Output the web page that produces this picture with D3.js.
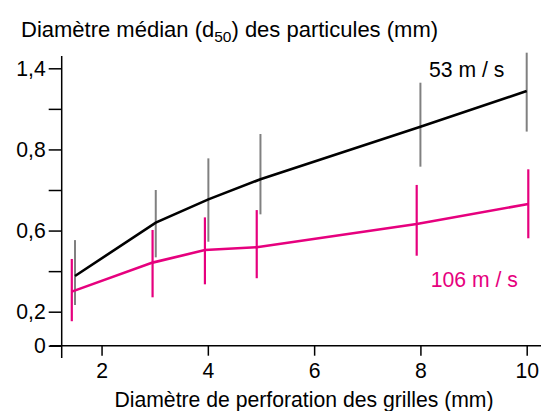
<!DOCTYPE html>
<html><head><meta charset="utf-8">
<script src="https://cdn.jsdelivr.net/npm/d3@7"></script>
<style>
html,body{margin:0;padding:0;background:#fff;}
svg{display:block;font-family:"Liberation Sans",Arial,sans-serif;}
</style></head>
<body><svg id="c" width="541" height="411"></svg>
<script>
// Data (y in the chart's internal linear scale)
const xTicks = [2, 4, 6, 8, 10];
const yTicks = [0, 0.2, 0.4, 0.6, 0.8, 1.0, 1.2, 1.4];
const yTickLabels = ["0", "0,2", "", "0,6", "", "0,8", "", "1,4"];

const x53 = [1.5, 3.02, 4.01, 4.99, 8.0, 10.0];
const y53 = [0.376, 0.639, 0.754, 0.853, 1.112, 1.288];
const lo53 = [0.233, 0.468, 0.545, 0.680, 0.915, 1.088];
const hi53 = [0.553, 0.800, 0.956, 1.076, 1.329, 1.477];

const x106 = [1.44, 2.96, 3.945, 4.92, 7.93, 10.03];
const y106 = [0.299, 0.442, 0.504, 0.518, 0.632, 0.731];
const lo106 = [0.144, 0.271, 0.335, 0.365, 0.476, 0.562];
const hi106 = [0.460, 0.603, 0.665, 0.701, 0.825, 0.902];

const seriesNames = ["53 m / s", "106 m / s"];
const titleParts = ["Diamètre médian (d", "50", ") des particules (mm)"];
const xLabel = "Diamètre de perforation des grilles (mm)";

const svg = d3.select("#c");
const FS = 21.2;
const FF = "Liberation Sans, Arial, sans-serif";
const x = d3.scaleLinear().domain([1.25, 10]).range([61.7, 526.7]);
const y = d3.scaleLinear().domain([0, 0.2, 1.4]).range([345.7, 311.7, 68.3]);

// Axes
const gx = svg.append("g").attr("transform", `translate(0,${y(0)})`)
  .call(d3.axisBottom(x).tickValues(xTicks).tickSize(10).tickSizeOuter(0).tickPadding(7).tickFormat(d3.format("d")));
gx.select(".domain").remove();
gx.selectAll("line").attr("stroke", "#000").attr("stroke-width", 1.5);
gx.selectAll("text").attr("font-size", FS).attr("fill", "#000").attr("font-family", FF);
svg.append("line").attr("x1", 50).attr("x2", 541).attr("y1", y(0)).attr("y2", y(0))
  .attr("stroke", "#000").attr("stroke-width", 1.5);

const gy = svg.append("g").attr("transform", `translate(${x(1.25)},0)`)
  .call(d3.axisLeft(y).tickValues(yTicks).tickSize(13).tickSizeOuter(0).tickPadding(3)
    .tickFormat((d, i) => yTickLabels[i]));
gy.select(".domain").remove();
gy.selectAll("line").attr("stroke", "#000").attr("stroke-width", 1.5);
gy.selectAll("text").attr("font-size", FS).attr("fill", "#000").attr("font-family", FF);
svg.append("line").attr("x1", x(1.25)).attr("x2", x(1.25)).attr("y1", 56).attr("y2", 358)
  .attr("stroke", "#000").attr("stroke-width", 1.5);

// Series
const s53 = x53.map((v, i) => ({x: v, y: y53[i], lo: lo53[i], hi: hi53[i]}));
const s106 = x106.map((v, i) => ({x: v, y: y106[i], lo: lo106[i], hi: hi106[i]}));
const line = d3.line().x(d => x(d.x)).y(d => y(d.y));

svg.append("g").selectAll("line").data(s53).join("line")
  .attr("x1", d => x(d.x)).attr("x2", d => x(d.x))
  .attr("y1", d => y(d.lo)).attr("y2", d => y(d.hi))
  .attr("stroke", "#808080").attr("stroke-width", 2);
svg.append("path").datum(s53).attr("d", line).attr("fill", "none")
  .attr("stroke", "#000").attr("stroke-width", 2.6);

svg.append("g").selectAll("line").data(s106).join("line")
  .attr("x1", d => x(d.x)).attr("x2", d => x(d.x))
  .attr("y1", d => y(d.lo)).attr("y2", d => y(d.hi))
  .attr("stroke", "#e6007e").attr("stroke-width", 2.2);
svg.append("path").datum(s106).attr("d", line).attr("fill", "none")
  .attr("stroke", "#e6007e").attr("stroke-width", 2.6);

// Labels
svg.append("text").attr("x", 429).attr("y", 77.3).attr("font-size", FS).attr("fill", "#000").text(seriesNames[0]);
svg.append("text").attr("x", 430.7).attr("y", 286.7).attr("font-size", FS).attr("fill", "#e6007e").text(seriesNames[1]);

const t = svg.append("text").attr("x", 21).attr("y", 36.7).attr("font-size", 22).attr("fill", "#000");
t.append("tspan").text(titleParts[0]);
t.append("tspan").attr("dy", 5).attr("font-size", 15.5).text(titleParts[1]);
t.append("tspan").attr("dy", -5).text(titleParts[2]);

svg.append("text").attr("x", (117 + 491) / 2).attr("y", 407).attr("text-anchor", "middle")
  .attr("font-size", FS).attr("fill", "#000").text(xLabel);
</script></body></html>
